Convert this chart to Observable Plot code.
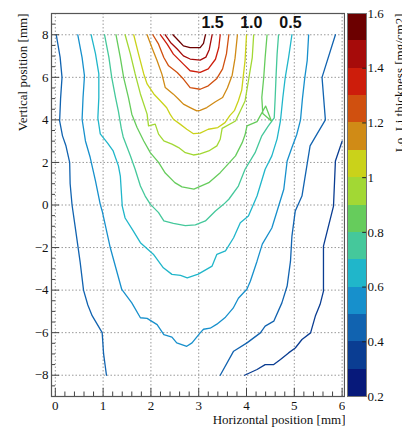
<!DOCTYPE html>
<html><head><meta charset="utf-8">
<script src="https://cdn.jsdelivr.net/npm/d3@7"></script>
<script src="https://cdn.jsdelivr.net/npm/@observablehq/plot@0.6"></script>
<style>
html,body{margin:0;padding:0;background:#fff;}
#chart{position:relative;width:402px;height:429px;overflow:hidden;}
#chart svg{position:absolute;top:0;font-family:'Liberation Serif','Times New Roman',serif !important;font-size:13px !important;max-width:none !important;}
#chart svg .anno text{font-family:'Liberation Sans',Arial,sans-serif !important;font-weight:bold;font-size:16px;}
</style></head><body><div id="chart"></div>
<script>
// ---- data ----
const thresholds = [0.3,0.4,0.5,0.6,0.7,0.8,0.9,1.0,1.1,1.2,1.3,1.4,1.5];
const binEdges = [0.2,0.3,0.4,0.5,0.6,0.7,0.8,0.9,1.0,1.1,1.2,1.3,1.4,1.5,1.6];
const binColors = ["#07197a","#0a3d92","#1163b0","#1790cc","#20b6ca","#45c89b","#66cc5c","#a2d834","#cad21a","#d08b16","#d0500f","#cd1d0b","#a60b0a","#6c0000"];
const cbTicks = [0.2,0.4,0.6,0.8,1.0,1.2,1.4,1.6];
const xTicks = [0,1,2,3,4,5,6];
const yTicks = [-8,-6,-4,-2,0,2,4,6,8];
const annoText = ["1.5","1.0","0.5"];
const annoX = [3.29,4.10,4.92];
const annoY = 8.54;

const c03 = [[3.96,-8.0],[4.22,-7.73],[4.39,-7.5],[4.57,-7.5],[4.71,-7.26],[4.88,-6.95],[5.02,-6.72],[5.16,-6.32],[5.34,-6.01],[5.44,-5.22],[5.54,-4.67],[5.61,-4.05],[5.61,-2.64],[5.61,-1.93],[5.82,-0.05],[5.86,2.07],[6.0,3.0]];
const c04a = [[0.02,8],[0.10,6.95],[0.14,6.0],[0.11,5.0],[0.09,3.95],[0.15,3.25],[0.22,2.8],[0.30,2.0],[0.31,1.0],[0.35,0.0],[0.42,-1.1],[0.52,-2.7],[0.59,-4.0],[0.68,-4.7],[0.77,-5.2],[0.98,-6.0],[1.01,-7.0],[1.07,-8.0]];
const c04b = [[3.45,-8.0],[3.73,-6.87],[4.01,-6.48],[4.29,-6.01],[4.39,-5.69],[4.57,-5.46],[4.74,-4.60],[4.85,-3.81],[4.92,-2.64],[4.95,-1.46],[5.02,-0.28],[5.16,0.42],[5.33,2.78],[5.44,3.2],[5.65,4.0],[5.58,6.0],[5.86,8.0]];
const c05 = [[0.47,8],[0.56,6.93],[0.61,6.07],[0.58,5.05],[0.56,4.03],[0.63,3.01],[0.73,2.23],[0.84,1.13],[0.94,0.03],[0.98,-0.28],[1.15,-2.01],[1.39,-3.97],[1.60,-4.60],[1.78,-5.30],[1.92,-5.33],[2.13,-5.62],[2.27,-6.09],[2.44,-6.21],[2.54,-6.48],[2.75,-6.64],[2.86,-6.48],[3.03,-6.01],[3.10,-5.84],[3.24,-5.79],[3.38,-5.60],[3.56,-5.27],[3.72,-4.85],[3.83,-4.38],[4.01,-3.95],[4.08,-3.58],[4.22,-2.64],[4.33,-1.84],[4.53,-1.08],[4.64,-0.28],[4.78,0.74],[4.85,2.07],[4.95,2.7],[5.05,3.3],[5.13,4.0],[5.17,5.0],[5.22,6.0],[5.27,6.8],[5.30,8.0]];
const c06 = [[0.75,8.0],[0.84,7.11],[0.91,6.16],[0.91,5.04],[0.89,4.09],[0.94,3.34],[1.09,2.92],[1.21,2.54],[1.32,1.84],[1.36,1.36],[1.40,-0.05],[1.46,-0.61],[1.63,-1.22],[1.78,-1.77],[2.05,-2.31],[2.26,-2.95],[2.44,-3.26],[2.62,-3.31],[2.76,-3.42],[2.99,-3.25],[3.28,-2.87],[3.38,-2.32],[3.56,-2.16],[3.73,-1.54],[3.87,-0.83],[4.04,-0.52],[4.22,0.42],[4.39,1.68],[4.53,2.31],[4.64,3.11],[4.71,3.95],[4.76,5.05],[4.81,5.99],[4.88,6.93],[4.95,8.0]];
const c07 = [[1.03,8.0],[1.12,6.95],[1.18,6.0],[1.26,5.05],[1.32,4.4],[1.38,3.6],[1.42,3.2],[1.57,2.31],[1.67,1.68],[1.78,0.89],[1.88,0.42],[1.99,0.03],[2.16,-0.36],[2.27,-0.75],[2.47,-0.86],[2.72,-0.97],[2.93,-0.93],[3.14,-0.75],[3.35,-0.28],[3.52,0.03],[3.63,0.27],[3.83,0.89],[3.97,1.68],[4.18,2.46],[4.32,3.25],[4.45,3.7],[4.58,4.1],[4.60,5.05],[4.62,6.15],[4.64,7.09],[4.67,8.0]];
const c08 = [[1.27,8.0],[1.36,6.93],[1.43,5.99],[1.53,5.05],[1.60,4.27],[1.71,3.64],[1.85,3.01],[1.99,2.45],[2.16,2.0],[2.3,1.5],[2.5,1.05],[2.65,0.85],[2.9,0.75],[3.21,1.05],[3.45,1.52],[3.77,2.31],[3.91,2.93],[3.97,3.3],[4.01,3.72],[4.22,3.92],[4.40,4.65],[4.52,3.95],[4.34,4.3],[4.32,5.05],[4.36,5.99],[4.39,6.93],[4.43,8.0]];
const c09 = [[1.46,8.0],[1.57,7.1],[1.67,6.16],[1.78,5.22],[1.92,4.27],[1.95,3.72],[2.09,3.8],[2.16,3.33],[2.27,3.01],[2.44,2.86],[2.58,2.70],[2.72,2.46],[2.89,2.35],[3.03,2.40],[3.21,2.54],[3.38,2.78],[3.45,3.09],[3.49,3.6],[3.77,3.95],[3.97,4.89],[4.04,5.84],[4.12,6.93],[4.15,8.0]];
const c10 = [[1.64,8.0],[1.74,7.1],[1.85,6.16],[1.92,5.69],[2.06,5.22],[2.20,4.89],[2.33,4.57],[2.40,4.27],[2.47,4.03],[2.61,3.80],[2.75,3.56],[2.89,3.35],[3.03,3.38],[3.20,3.56],[3.40,3.64],[3.55,3.87],[3.65,4.2],[3.75,4.45],[3.83,4.9],[3.90,5.4],[3.93,6.0],[3.97,6.8],[4.0,8.0]];
const c11 = [[1.92,8],[2.02,7.40],[2.13,6.78],[2.23,6.15],[2.30,5.52],[2.47,5.21],[2.58,4.97],[2.68,4.74],[2.82,4.58],[2.96,4.42],[3.03,4.45],[3.17,4.58],[3.35,4.85],[3.50,5.05],[3.60,5.5],[3.70,6.1],[3.76,6.9],[3.81,8.0]];
const c12 = [[2.04,8],[2.16,7.56],[2.27,6.93],[2.37,6.54],[2.55,6.23],[2.68,5.92],[2.82,5.52],[3.03,5.44],[3.2,5.6],[3.38,5.95],[3.5,6.4],[3.58,7.1],[3.63,8.0]];
const c13 = [[2.20,8],[2.34,7.56],[2.47,7.09],[2.68,6.62],[2.82,6.31],[3.03,6.23],[3.2,6.4],[3.35,6.85],[3.42,7.4],[3.45,8.0]];
const c14 = [[2.30,8],[2.41,7.64],[2.55,7.33],[2.68,7.01],[2.82,6.86],[3.03,6.81],[3.15,6.95],[3.22,7.3],[3.28,8.0]];
const c15 = [[2.46,8],[2.58,7.72],[2.68,7.48],[2.82,7.40],[3.03,7.40],[3.10,7.6],[3.14,8.0]];

const contourLevels = [0.3,0.4,0.4,0.5,0.6,0.7,0.8,0.9,1.0,1.1,1.2,1.3,1.4,1.5];
const contourPaths = [c03,c04a,c04b,c05,c06,c07,c08,c09,c10,c11,c12,c13,c14,c15];

// ---- build ----
const rows = contourPaths.flatMap((p,i)=>p.map(([x,y])=>({id:i, level:contourLevels[i], x, y})));
const color = {type:"threshold", domain:thresholds, range:binColors};
const xDom = [-0.08,6.05], yDom = [-9,9];
const pxX = (xDom[1]-xDom[0])/(344-51), pxY = (yDom[1]-yDom[0])/(396-13);
const xMinor = d3.range(0,6.01,0.2).map(v=>+v.toFixed(1)).filter(v=>!xTicks.includes(v));
const yMinor = d3.range(-9,9.01,0.5).filter(v=>!yTicks.includes(v));

const main = Plot.plot({
  width:345, height:429, marginLeft:51, marginRight:1, marginTop:13, marginBottom:33,
  x:{domain:xDom}, y:{domain:yDom}, color,
  marks:[
    Plot.gridX(xTicks,{stroke:"#9a9a9a", strokeOpacity:1, strokeDasharray:"1.5,2"}),
    Plot.gridY(yTicks,{stroke:"#9a9a9a", strokeOpacity:1, strokeDasharray:"1.5,2"}),
    Plot.line(rows,{x:"x", y:"y", z:"id", stroke:"level", strokeWidth:1.3}),
    Plot.ruleX(xTicks,{x:d=>d, y1:yDom[0], y2:yDom[0]+8*pxY, stroke:"#444"}),
    Plot.ruleX(xMinor,{x:d=>d, y1:yDom[0], y2:yDom[0]+4.5*pxY, stroke:"#444"}),
    Plot.ruleY(yTicks,{y:d=>d, x1:xDom[0], x2:xDom[0]+8*pxX, stroke:"#444"}),
    Plot.ruleY(yMinor,{y:d=>d, x1:xDom[0], x2:xDom[0]+4*pxX, stroke:"#444"}),
    Plot.frame({stroke:"#555", strokeWidth:1.2}),
    Plot.axisX(xTicks,{tickSize:0, tickPadding:4, label:null, fontSize:13, fill:"#111"}),
    Plot.axisY(yTicks,{tickSize:0, tickPadding:3, label:null, fontSize:13, fill:"#111"}),
    Plot.text(["Vertical position [mm]"],{frameAnchor:"top-left", rotate:-90, textAnchor:"end", lineAnchor:"middle", dx:-29, fontSize:13, fill:"#111"}),
    Plot.text(["Horizontal position [mm]"],{frameAnchor:"bottom-right", textAnchor:"end", lineAnchor:"middle", dy:23, dx:1, fontSize:13, fill:"#111"}),
    Plot.text(annoText,{x:(d,i)=>annoX[i], y:()=>annoY, text:d=>d, className:"anno", fill:"#111"})
  ]
});
main.style.left = "0px";

const bins = binEdges.slice(0,-1).map((lo,i)=>({lo, hi:binEdges[i+1]}));
const bar = Plot.plot({
  width:57, height:429, marginLeft:2, marginRight:36, marginTop:13, marginBottom:33,
  x:{domain:[0,1], axis:null}, y:{domain:[0.2,1.6], axis:null}, color,
  marks:[
    Plot.rect(bins,{x1:0, x2:1, y1:"lo", y2:"hi", fill:"lo", shapeRendering:"crispEdges"}),
    Plot.ruleY(cbTicks,{y:d=>d, x1:0.8, x2:1, stroke:"#222"}),
    Plot.frame({stroke:"#777"}),
    Plot.axisY(cbTicks,{anchor:"right", tickSize:0, tickPadding:1, tickFormat:d3.format("~g"), label:null, fontSize:13, fill:"#111"}),
    Plot.text(["Lo. Li thickness [mg/cm2]"],{frameAnchor:"top-right", rotate:-90, textAnchor:"end", lineAnchor:"middle", dx:33, fontSize:13, fill:"#111"})
  ]
});
bar.style.left = "345px";

const root = document.getElementById("chart");
root.appendChild(main);
root.appendChild(bar);
</script>
</body></html>
